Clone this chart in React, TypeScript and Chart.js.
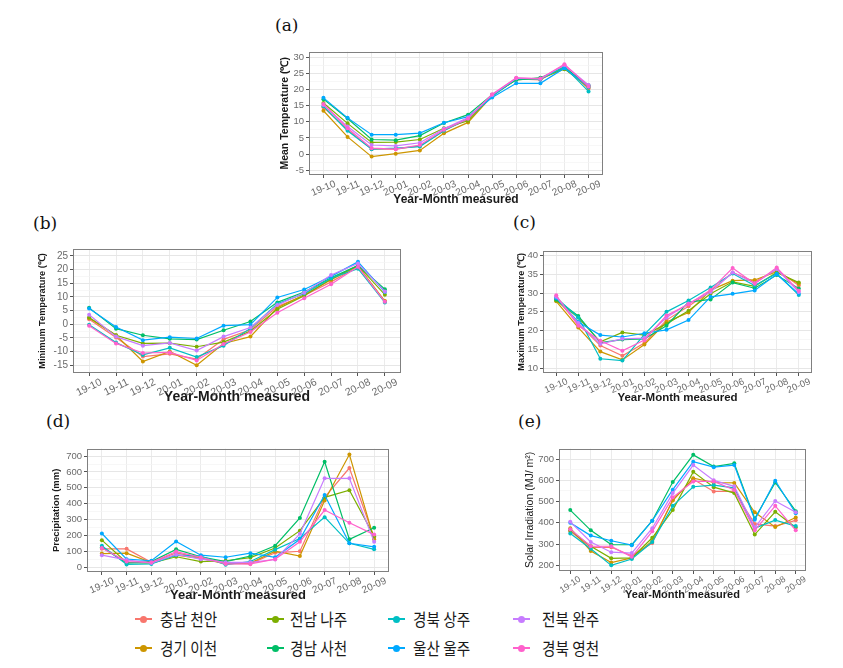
import React, { useEffect, useRef } from 'react';
import { Chart, registerables } from 'chart.js';

Chart.register(...registerables);

// ---------- data ----------
const months = ['19-10', '19-11', '19-12', '20-01', '20-02', '20-03', '20-04', '20-05', '20-06', '20-07', '20-08', '20-09'];
const regions = ['충남 천안', '경기 이천', '전남 나주', '경남 사천', '경북 상주', '울산 울주', '전북 완주', '경북 영천'];
const colors = ['#F8766D', '#CD9600', '#7CAE00', '#00BE67', '#00BFC4', '#00A9FF', '#C77CFF', '#FF61CC'];

// rows follow the order of `regions`
const meanTemp = [
  [14.5, 7.5, 1.5, 1.5, 2.5, 7.3, 10.8, 18.3, 23.3, 23.0, 27.3, 20.2],
  [13.4, 5.3, -0.8, 0.1, 1.1, 6.4, 9.8, 18.0, 23.2, 23.2, 26.5, 20.5],
  [15.8, 9.5, 3.6, 3.7, 4.5, 8.0, 10.3, 18.2, 23.0, 23.5, 26.3, 21.0],
  [17.0, 11.0, 4.5, 4.3, 5.7, 9.6, 12.2, 18.4, 23.0, 23.6, 26.8, 21.3],
  [14.8, 7.2, 1.5, 1.8, 2.3, 7.2, 11.0, 17.8, 23.4, 23.2, 27.0, 19.4],
  [17.4, 11.2, 6.0, 6.0, 6.5, 9.7, 11.6, 17.5, 21.9, 21.9, 26.6, 20.8],
  [15.2, 8.5, 2.8, 2.5, 3.5, 7.8, 11.3, 18.3, 23.5, 23.3, 27.6, 21.4],
  [15.5, 8.0, 1.8, 1.5, 2.8, 7.5, 10.9, 18.5, 23.6, 23.4, 27.8, 20.9],
];
const minTemp = [
  [1.8, -4.8, -11.8, -10.8, -12.7, -5.5, -2.0, 6.5, 10.5, 15.5, 21.0, 8.3],
  [2.3, -4.0, -13.6, -9.9, -15.0, -7.0, -4.5, 6.0, 10.8, 16.3, 21.3, 8.5],
  [2.5, -4.0, -7.0, -6.9, -8.2, -6.5, -2.5, 5.5, 10.4, 16.5, 21.5, 10.8],
  [6.0, -1.6, -4.0, -5.3, -5.6, -2.2, 1.0, 8.0, 11.8, 17.0, 21.5, 12.8],
  [-0.2, -6.7, -11.2, -8.6, -12.0, -7.8, -1.5, 7.5, 11.2, 16.8, 20.3, 8.0],
  [5.8, -1.0, -5.8, -4.7, -5.2, -0.5, -0.1, 9.8, 12.7, 17.5, 22.8, 11.8],
  [3.5, -4.5, -7.8, -6.8, -9.6, -4.5, -1.2, 7.0, 11.5, 18.0, 22.2, 12.0],
  [-0.5, -7.0, -10.5, -10.3, -13.2, -7.2, -2.8, 4.2, 9.5, 14.6, 21.0, 8.2],
];
const maxTemp = [
  [28.5, 21.8, 16.0, 13.3, 16.7, 22.8, 26.5, 30.5, 35.5, 33.0, 36.2, 32.0],
  [27.8, 20.8, 14.4, 12.2, 16.3, 22.3, 24.8, 30.8, 33.3, 33.5, 35.7, 32.5],
  [28.0, 23.5, 17.0, 19.5, 18.8, 21.8, 25.3, 29.8, 33.0, 31.8, 35.5, 32.8],
  [28.3, 23.9, 16.8, 17.6, 17.8, 21.3, 27.6, 28.3, 32.8, 31.3, 34.8, 31.2],
  [28.8, 23.5, 12.5, 12.0, 19.0, 25.0, 28.0, 31.5, 35.2, 32.0, 35.2, 29.5],
  [28.7, 22.3, 18.8, 18.3, 19.3, 20.2, 22.8, 29.0, 29.8, 30.7, 35.0, 29.8],
  [29.0, 22.0, 16.5, 17.8, 18.0, 23.5, 27.2, 30.3, 35.5, 32.6, 36.4, 30.3],
  [29.4, 21.3, 17.3, 14.6, 17.5, 24.0, 27.0, 30.8, 36.7, 32.5, 36.8, 30.6],
];
const precipitation = [
  [115, 115, 30, 90, 60, 25, 20, 90, 100, 440, 625, 185],
  [85, 88, 28, 75, 55, 20, 25, 100, 70, 420, 710, 175],
  [170, 30, 25, 65, 35, 40, 60, 120, 230, 440, 485, 195],
  [125, 25, 35, 112, 65, 35, 70, 135, 310, 665, 175, 248],
  [135, 17, 20, 75, 70, 15, 35, 110, 180, 315, 150, 112],
  [212, 50, 40, 162, 75, 62, 88, 62, 175, 455, 150, 128],
  [75, 45, 25, 80, 50, 30, 30, 48, 210, 560, 560, 160],
  [120, 35, 30, 98, 62, 20, 20, 50, 160, 360, 280, 205],
];
const solar = [
  [360, 285, 285, 245, 305, 510, 605, 548, 548, 395, 385, 412],
  [375, 268, 213, 235, 315, 505, 610, 590, 588, 450, 380, 425],
  [365, 290, 233, 235, 330, 460, 640, 568, 540, 345, 452, 378],
  [460, 365, 298, 297, 410, 592, 720, 665, 680, 420, 590, 455],
  [350, 278, 200, 230, 310, 480, 570, 578, 565, 375, 413, 385],
  [400, 340, 316, 295, 410, 556, 688, 662, 672, 415, 598, 445],
  [405, 310, 262, 258, 375, 540, 672, 600, 572, 378, 503, 450],
  [370, 290, 290, 240, 360, 520, 595, 595, 555, 365, 480, 365],
];

// ---------- layout ----------
const SANS = "'Liberation Sans', Arial, sans-serif";

type PanelCfg = {
  key: string;
  values: number[][];
  yTitle: string;
  yTitleBold: boolean;
  yTitleSize: number;
  yTitleX: number;
  xTitleSize: number;
  xTitleY: number;
  L: number; R: number; T: number; B: number;
  yMin: number; yMax: number; major: number;
  xMin: number; xMax: number;
  tickSize: number; yTickSize: number; rot: number;
};

const panels: PanelCfg[] = [
  { key: 'a', values: meanTemp, yTitle: 'Mean Temperature (℃)', yTitleBold: true, yTitleSize: 10.5, yTitleX: 285,
    xTitleSize: 12, xTitleY: 200, L: 309, R: 603, T: 50, B: 175, yMin: -6.5, yMax: 31.7, major: 5,
    xMin: -0.6, xMax: 11.6, tickSize: 10, yTickSize: 9.5, rot: 23 },
  { key: 'b', values: minTemp, yTitle: 'Minimum Temperature (℃)', yTitleBold: true, yTitleSize: 9.2, yTitleX: 43,
    xTitleSize: 14, xTitleY: 398, L: 73, R: 401, T: 247, B: 373, yMin: -17.8, yMax: 27.5, major: 5,
    xMin: -0.6, xMax: 11.6, tickSize: 10.5, yTickSize: 10, rot: 26 },
  { key: 'c', values: maxTemp, yTitle: 'Maximum Temperature (℃)', yTitleBold: true, yTitleSize: 9.2, yTitleX: 522,
    xTitleSize: 11.5, xTitleY: 398, L: 543, R: 812, T: 249, B: 373, yMin: 8.7, yMax: 41.3, major: 5,
    xMin: -0.6, xMax: 11.6, tickSize: 9.5, yTickSize: 9.5, rot: 23 },
  { key: 'd', values: precipitation, yTitle: 'Precipitation (mm)', yTitleBold: true, yTitleSize: 9.5, yTitleX: 57,
    xTitleSize: 13, xTitleY: 595, L: 87, R: 389, T: 447, B: 572, yMin: -31, yMax: 747, major: 100,
    xMin: -0.6, xMax: 11.6, tickSize: 10, yTickSize: 9.5, rot: 24 },
  { key: 'e', values: solar, yTitle: 'Solar Irradiation (MJ/ m²)', yTitleBold: false, yTitleSize: 10.5, yTitleX: 530,
    xTitleSize: 11, xTitleY: 595, L: 559, R: 806, T: 447, B: 571, yMin: 173.5, yMax: 749, major: 100,
    xMin: -0.55, xMax: 11.5, tickSize: 9, yTickSize: 9.5, rot: 33 },
];

const panelLabels = [
  { text: '(a)', left: 275, top: 15 },
  { text: '(b)', left: 33, top: 213 },
  { text: '(c)', left: 513, top: 212 },
  { text: '(d)', left: 46, top: 411 },
  { text: '(e)', left: 518, top: 411 },
];

const borderPlugin = {
  id: 'panelBorder',
  afterDatasetsDraw(chart: any) {
    const { ctx, chartArea } = chart;
    ctx.save();
    ctx.strokeStyle = '#808080';
    ctx.lineWidth = 1;
    ctx.strokeRect(Math.round(chartArea.left) + 0.5, Math.round(chartArea.top) + 0.5,
      Math.round(chartArea.right - chartArea.left) - 1, Math.round(chartArea.bottom - chartArea.top) - 1);
    ctx.restore();
  },
};

function Panel({ cfg }: { cfg: PanelCfg }) {
  const ref = useRef<HTMLCanvasElement>(null);
  const padTop = 6;
  const padRight = 22;
  const canvasLeft = Math.round(cfg.yTitleX - 0.6 * cfg.yTitleSize);
  const canvasTop = cfg.T - padTop;
  const canvasBottom = Math.round(cfg.xTitleY + 0.6 * cfg.xTitleSize);
  const width = cfg.R + padRight - canvasLeft;
  const height = canvasBottom - canvasTop;
  const wy = cfg.L - canvasLeft;
  const hx = canvasBottom - cfg.B;

  useEffect(() => {
    if (!ref.current) return;
    const minor = cfg.major / 2;
    const isMajor = (v: number) => Math.abs(v / cfg.major - Math.round(v / cfg.major)) < 1e-6;
    const labelW = cfg.tickSize * 2.56;
    const chart = new Chart(ref.current, {
      type: 'line',
      data: {
        datasets: regions.map((r, i) => ({
          label: r,
          data: cfg.values[i].map((v, j) => ({ x: j, y: v })),
          borderColor: colors[i],
          backgroundColor: colors[i],
          pointBackgroundColor: colors[i],
          pointBorderWidth: 0,
          pointRadius: 2,
          borderWidth: 1.2,
          tension: 0,
          order: 8 - i,
        })),
      },
      options: {
        responsive: false,
        animation: false,
        devicePixelRatio: 1,
        events: [],
        layout: { padding: { left: 0, top: padTop, right: padRight, bottom: 0 } },
        plugins: { legend: { display: false }, tooltip: { enabled: false } },
        scales: {
          x: {
            type: 'linear',
            min: cfg.xMin,
            max: cfg.xMax,
            afterFit: (s: any) => { s.height = hx; },
            border: { display: false },
            grid: { color: '#EBEBEB', lineWidth: 1, drawTicks: true, tickLength: 3, tickColor: '#555' },
            ticks: {
              stepSize: 1,
              includeBounds: false,
              autoSkip: false,
              minRotation: cfg.rot,
              maxRotation: cfg.rot,
              labelOffset: (labelW / 2) * Math.cos((cfg.rot * Math.PI) / 180),
              padding: 0,
              color: '#6b6b6b',
              font: { size: cfg.tickSize, family: SANS },
              callback: (v: any) => {
                const n = Number(v);
                const k = Math.round(n);
                return Math.abs(n - k) < 1e-6 && months[k] ? months[k] : '';
              },
            },
            title: {
              display: true,
              text: 'Year-Month measured',
              color: '#1a1a1a',
              padding: 0,
              font: { size: cfg.xTitleSize, weight: 'bold', family: SANS },
            },
          },
          y: {
            type: 'linear',
            min: cfg.yMin,
            max: cfg.yMax,
            afterFit: (s: any) => { s.width = wy; },
            border: { display: false },
            grid: {
              color: (c: any) => (c.tick && isMajor(c.tick.value) ? '#E6E6E6' : '#F3F3F3'),
              lineWidth: (c: any) => (c.tick && isMajor(c.tick.value) ? 1 : 0.7),
              drawTicks: true,
              tickLength: 3,
              tickColor: (c: any) => (c.tick && isMajor(c.tick.value) ? '#555' : 'rgba(0,0,0,0)'),
            },
            ticks: {
              stepSize: minor,
              includeBounds: false,
              autoSkip: false,
              padding: 2,
              color: '#6b6b6b',
              font: { size: cfg.yTickSize, family: SANS },
              callback: (v: any) => (isMajor(Number(v)) ? String(Math.round(Number(v))) : ''),
            },
            title: {
              display: true,
              text: cfg.yTitle,
              color: '#1a1a1a',
              padding: 0,
              font: { size: cfg.yTitleSize, weight: cfg.yTitleBold ? 'bold' : 'normal', family: SANS },
            },
          },
        },
      },
      plugins: [borderPlugin],
    } as any);
    return () => chart.destroy();
  }, []);

  return (
    <canvas
      ref={ref}
      width={width}
      height={height}
      style={{ position: 'absolute', left: canvasLeft, top: canvasTop, width, height }}
    />
  );
}

const legendMarkerX = [135, 267, 388, 513];
const legendTextX = [160, 290, 413, 542];
const legendRowY = [619, 648];

export default function App() {
  return (
    <div style={{ position: 'absolute', left: 0, top: 0, width: 843, height: 668, background: '#fff', overflow: 'hidden' }}>
      {panels.map((p) => (
        <Panel key={p.key} cfg={p} />
      ))}
      {panelLabels.map((l) => (
        <div
          key={l.text}
          style={{ position: 'absolute', left: l.left, top: l.top, fontFamily: "'DejaVu Serif', serif", fontSize: 17, lineHeight: '20px', color: '#111' }}
        >
          {l.text}
        </div>
      ))}
      {regions.map((r, i) => {
        const col = Math.floor(i / 2);
        const row = i % 2;
        const cy = legendRowY[row];
        return (
          <React.Fragment key={r}>
            <div style={{ position: 'absolute', left: legendMarkerX[col], top: cy - 1, width: 17, height: 2, background: colors[i] }} />
            <div style={{ position: 'absolute', left: legendMarkerX[col] + 5, top: cy - 3.5, width: 7, height: 7, borderRadius: '50%', background: colors[i] }} />
            <div
              style={{ position: 'absolute', left: legendTextX[col], top: cy - 12, fontFamily: "'Noto Sans CJK KR', sans-serif", fontSize: 17, lineHeight: '24px', color: '#1a1a1a', whiteSpace: 'nowrap', transform: 'scaleX(0.86)', transformOrigin: 'left center' }}
            >
              {r}
            </div>
          </React.Fragment>
        );
      })}
    </div>
  );
}
